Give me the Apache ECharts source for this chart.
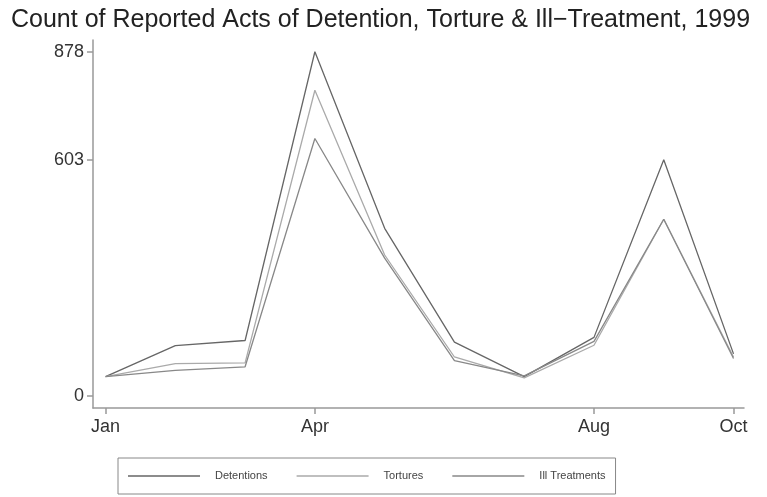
<!DOCTYPE html>
<html>
<head>
<meta charset="utf-8">
<script src="https://cdn.jsdelivr.net/npm/echarts@6/dist/echarts.min.js"></script>
<style>html,body{margin:0;padding:0;background:#fff;}#c{width:767px;height:497px;}</style>
</head>
<body>
<div id="c"></div>
<script>
const months = ["Jan","Feb","Mar","Apr","May","Jun","Jul","Aug","Sep","Oct"];
const detentions = [50, 129, 142, 878, 428, 138, 50, 150, 603, 108];
const tortures = [50, 83, 85, 780, 360, 100, 47, 130, 451, 100];
const illTreatments = [50, 66, 75, 657, 352, 91, 52, 140, 451, 96];
const xTickIdx = [0, 3, 7, 9];
const yTicks = [0, 603, 878];

const toPts = arr => arr.map((v, i) => [i, v]);
const chart = echarts.init(document.getElementById('c'));
const ff = 'Liberation Sans, Arial, sans-serif';
chart.setOption({
  backgroundColor: '#ffffff',
  animation: false,
  title: {
    text: 'Count of Reported Acts of Detention, Torture & Ill\u2212Treatment, 1999',
    left: 6, top: 3,
    textStyle: {fontFamily: ff, fontSize: 25, fontWeight: 'normal', color: '#222'}
  },
  grid: {left: 93, right: 23, top: 40, bottom: 89},
  xAxis: {
    type: 'value', min: -0.18, max: 9.15,
    axisLine: {onZero: false, lineStyle: {color: '#999', width: 1.5}},
    axisTick: {show: true, customValues: xTickIdx, length: 6, lineStyle: {color: '#999', width: 1.5}},
    axisLabel: {customValues: xTickIdx, formatter: v => months[Math.round(v)], fontFamily: ff, fontSize: 18, color: '#333', margin: 10},
    splitLine: {show: false}
  },
  yAxis: {
    type: 'value', min: -30, max: 908,
    axisLine: {show: true, onZero: false, lineStyle: {color: '#999', width: 1.5}},
    axisTick: {show: true, customValues: yTicks, length: 6, lineStyle: {color: '#999', width: 1.5}},
    axisLabel: {customValues: yTicks, fontFamily: ff, fontSize: 18, color: '#333', margin: 9},
    splitLine: {show: false}
  },
  legend: {
    left: 118, top: 458,
    padding: [11, 10, 11, 10],
    borderColor: '#888', borderWidth: 1,
    icon: 'rect',
    itemWidth: 72, itemHeight: 1.5, itemGap: 29,
    textStyle: {fontFamily: ff, fontSize: 11, color: '#444', lineHeight: 14, padding: [0, 0, 0, 10]},
    data: ['Detentions', 'Tortures', 'Ill Treatments']
  },
  series: [
    {name: 'Detentions', type: 'line', data: toPts(detentions), symbol: 'none', lineStyle: {color: '#666', width: 1.3}, itemStyle: {color: '#666'}},
    {name: 'Tortures', type: 'line', data: toPts(tortures), symbol: 'none', lineStyle: {color: '#aaa', width: 1.3}, itemStyle: {color: '#aaa'}},
    {name: 'Ill Treatments', type: 'line', data: toPts(illTreatments), symbol: 'none', lineStyle: {color: '#888', width: 1.3}, itemStyle: {color: '#888'}}
  ]
});
</script>
</body>
</html>
